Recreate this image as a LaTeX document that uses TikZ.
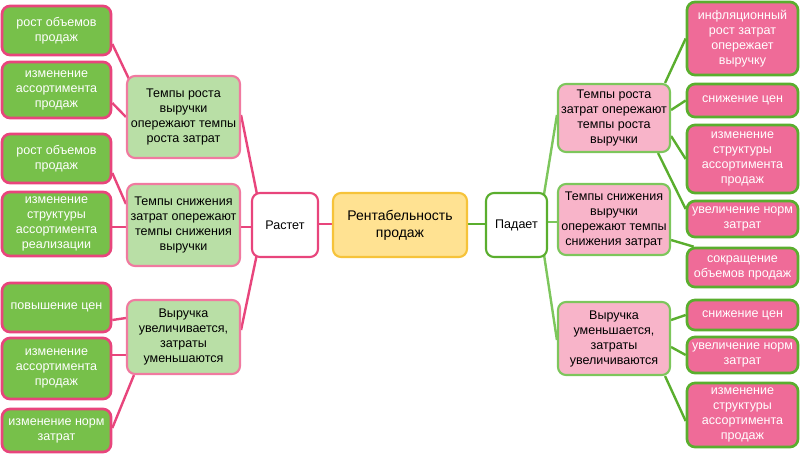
\documentclass[tikz,border=0pt]{standalone}
\usepackage{fontspec}
\setmainfont{Liberation Sans}
\usetikzlibrary{calc,backgrounds}
\definecolor{lgfill}{HTML}{77C04A}
\definecolor{lpink}{HTML}{E8457C}
\definecolor{lmfill}{HTML}{B9DFA6}
\definecolor{lmborder}{HTML}{F07AA0}
\definecolor{cfill}{HTML}{FFE292}
\definecolor{cborder}{HTML}{F6C33A}
\definecolor{rgreen}{HTML}{5AAE2E}
\definecolor{rmfill}{HTML}{F8B4C9}
\definecolor{rmborder}{HTML}{7DC65C}
\definecolor{rlfill}{HTML}{EF6B98}
\tikzset{
  sz/.style 2 args={minimum width={0.75pt*#1}, minimum height={0.75pt*#2}},
  basebox/.style={rounded corners=6pt, inner sep=0pt, align=center, font=\fontsize{9.4}{11.25}\selectfont},
  lleaf/.style={basebox, fill=lgfill, draw=lpink, line width=2pt, text=white},
  lmid/.style={basebox, fill=lmfill, draw=lmborder, line width=1.6pt, text=black},
  rleaf/.style={basebox, fill=rlfill, draw=rgreen, line width=2pt, text=white},
  rmid/.style={basebox, fill=rmfill, draw=rmborder, line width=1.6pt, text=black},
  growbox/.style={basebox, fill=white, draw=lpink, line width=1.6pt},
  fallbox/.style={basebox, fill=white, draw=rgreen, line width=1.6pt},
  centerbox/.style={basebox, fill=cfill, draw=cborder, line width=1.6pt, font=\fontsize{10.5}{13}\selectfont},
  lcon/.style={draw=lpink, line width=1.8pt},
  rcon/.style={draw=rgreen, line width=1.8pt},
  rcontwo/.style={draw=rmborder, line width=1.8pt},
}
\begin{document}
\begin{tikzpicture}[x=0.75pt,y=-0.75pt]
\useasboundingbox (0,0) rectangle (800,454);
% left leaves
\node[lleaf, sz={109}{49}] (l1) at (56.5,30.5) {рост объемов\\продаж};
\node[lleaf, sz={109}{56}] (l2) at (56.5,90) {изменение\\ассортимента\\продаж};
\node[lleaf, sz={109}{49}] (l3) at (56.5,158.5) {рост объемов\\продаж};
\node[lleaf, sz={109}{64}] (l4) at (56.5,224) {изменение\\структуры\\ассортимента\\реализации};
\node[lleaf, sz={109}{49}] (l5) at (56.5,307.5) {повышение цен};
\node[lleaf, sz={109}{61}] (l6) at (56.5,368.5) {изменение\\ассортимента\\продаж};
\node[lleaf, sz={109}{43}] (l7) at (56.5,430.5) {изменение норм\\затрат};
% left mid
\node[lmid, sz={113}{82}] (A) at (183.5,117) {Темпы роста\\выручки\\опережают темпы\\роста затрат};
\node[lmid, sz={113}{82}] (B) at (183.5,225) {Темпы снижения\\затрат опережают\\темпы снижения\\выручки};
\node[lmid, sz={113}{74}] (C) at (183.5,337) {Выручка\\увеличивается,\\затраты\\уменьшаются};
% center
\node[growbox, sz={66}{64}] (R) at (285,225) {Растет};
\node[centerbox, sz={134}{64}] (M) at (400,225) {Рентабельность\\продаж};
\node[fallbox, sz={61}{64}] (P) at (516.5,225) {Падает};
% right mid
\node[rmid, sz={112}{68}] (D) at (614,118) {Темпы роста\\затрат опережают\\темпы роста\\выручки};
\node[rmid, sz={112}{71}] (E) at (614,219.5) {Темпы снижения\\выручки\\опережают темпы\\снижения затрат};
\node[rmid, sz={112}{73}] (F) at (614,338.5) {Выручка\\уменьшается,\\затраты\\увеличиваются};
% right leaves
\node[rleaf, sz={111}{73}] (r1) at (742.5,38.5) {инфляционный\\рост затрат\\опережает\\выручку};
\node[rleaf, sz={111}{33}] (r2) at (742.5,100.5) {снижение цен};
\node[rleaf, sz={111}{68}] (r3) at (742.5,159) {изменение\\структуры\\ассортимента\\продаж};
\node[rleaf, sz={111}{36}] (r4) at (742.5,219) {увеличение норм\\затрат};
\node[rleaf, sz={111}{39}] (r5) at (742.5,267.5) {сокращение\\объемов продаж};
\node[rleaf, sz={111}{30}] (r6) at (742.5,315) {снижение цен};
\node[rleaf, sz={111}{36}] (r7) at (742.5,355) {увеличение норм\\затрат};
\node[rleaf, sz={111}{64}] (r8) at (742.5,415) {изменение\\структуры\\ассортимента\\продаж};
\begin{scope}[on background layer]
% left connectors
\draw[lcon] ($(l1.east)+(0,13.5)$) -- ($(A.north west)+(3,4)$);
\draw[lcon] ($(l2.east)+(0,13)$) -- (A.west);
\draw[lcon] ($(l3.east)+(0,14.5)$) -- ($(B.west)+(0,-21)$);
\draw[lcon] ($(l4.east)+(0,3)$) -- ($(B.west)+(0,2)$);
\draw[lcon] ($(l5.east)+(0,12.5)$) -- ($(C.west)+(0,-19)$);
\draw[lcon] ($(l6.east)+(0,-13.5)$) -- ($(C.west)+(0,18)$);
\draw[lcon] ($(l7.east)+(0,-2.5)$) -- ($(C.south west)+(8,0)$);
\draw[lcon] ($(A.east)+(0,-2)$) -- ($(R.north west)+(6,2)$);
\draw[lcon] ($(B.east)+(0,2)$) -- ($(R.west)+(0,2)$);
\draw[lcon] ($(C.east)+(0,-7)$) -- ($(R.south west)+(6,-4)$);
\draw[lcon] ($(R.east)+(0,-1)$) -- ($(M.west)+(0,-1)$);
\draw[rcon] ($(M.east)+(0,-1)$) -- ($(P.west)+(0,-1)$);
% right connectors
\draw[rcontwo] ($(D.west)+(0,-3)$) -- ($(P.north east)+(-4,2)$);
\draw[rcontwo] ($(E.west)+(0,2.5)$) -- ($(P.east)+(0,-3)$);
\draw[rcontwo] ($(F.west)+(0,1.5)$) -- ($(P.south east)+(-4,-3)$);
\draw[rcon] ($(D.north east)+(-6,0)$) -- (r1.west);
\draw[rcon] ($(D.east)+(0,-8)$) -- (r2.west);
\draw[rcon] ($(D.east)+(0,18)$) -- (r3.west);
\draw[rcon] ($(D.south east)+(-13,0)$) -- ($(r4.west)+(0,-10)$);
\draw[rcon] ($(E.east)+(0,20.5)$) -- ($(r5.north west)+(8,0)$);
\draw[rcon] ($(F.east)+(0,-18.5)$) -- (r6.west);
\draw[rcon] ($(F.east)+(0,8.5)$) -- (r7.west);
\draw[rcon] ($(F.south east)+(-6,0)$) -- ($(r8.west)+(0,6)$);
\end{scope}
\end{tikzpicture}
\end{document}
